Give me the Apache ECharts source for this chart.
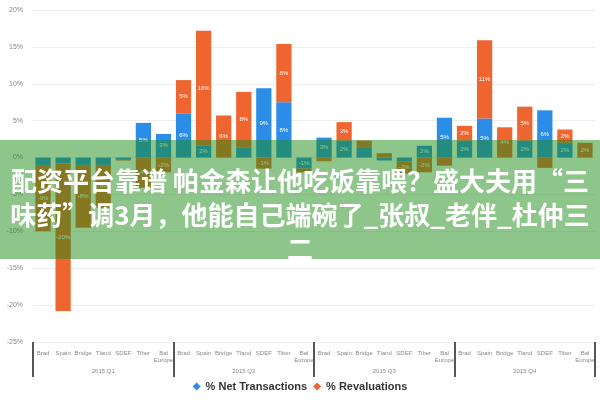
<!DOCTYPE html>
<html><head><meta charset="utf-8">
<script src="https://cdn.jsdelivr.net/npm/echarts@6/dist/echarts.min.js"></script>
<style>html,body{margin:0;padding:0;background:#fff}#c{width:600px;height:400px}</style>
</head><body><div id="c"></div>
<script>
const groupCats = ["Brad","Spain","Bridge","Tland","SDEF","Tiber","Bal\nEurope"];
const groups = ["2015 Q1","2015 Q2","2015 Q3","2015 Q4"];
const categories = [].concat(groupCats, groupCats, groupCats, groupCats);
const netTransactions = [-1, -0.8, -1, -1, -0.2, 4.7, 3.2, 6, 1.6, 0, 1.4, 9.4, 7.5, -1.5, 2.7, 2.3, 1.3, -0.4, -0.5, 1.6, 5.4, 2.3, 5.3, 0, 2.3, 6.4, 2, 0];
const revaluations = [-9, -20, -8.5, -5.8, -0.2, -4.1, -2, 4.5, 15.6, 5.7, 7.5, -1.5, 7.9, -0.5, -0.5, 2.5, 1, 0.6, -1.7, -2, -1.1, 2, 10.6, 4.1, 4.6, -1.4, 1.8, 2];
const titleLines = ["配资平台靠谱 帕金森让他吃饭靠喂？盛大夫用“三", "味药”调3月，他能自己端碗了_张叔_老伴_杜仲三", "二"];

const chart = echarts.init(document.getElementById('c'));
const lbl = {
  show: true, position: 'inside', fontSize: 6, color: '#fff',
  formatter: p => Math.abs(p.value) >= 1.5 ? Math.round(p.value) + '%' : ''
};
chart.setOption({
  animation: false,
  grid: {left: 33, right: 5, top: 10, bottom: 58},
  legend: {
    bottom: 3, left: 'center', icon: 'diamond', itemWidth: 8, itemHeight: 8, itemGap: 6,
    textStyle: {fontSize: 11, fontWeight: 'bold', color: '#333', fontFamily: 'Liberation Sans'},
    data: ['% Net Transactions', '% Revaluations']
  },
  xAxis: [{
    type: 'category', data: categories,
    axisLine: {show: false}, axisTick: {show: false},
    axisLabel: {interval: 0, fontSize: 6, color: '#888', margin: 8, lineHeight: 7}
  }, {
    type: 'category', data: groups, position: 'bottom',
    axisLine: {show: false},
    axisTick: {show: true, length: 35, lineStyle: {width: 2, color: '#555'}},
    axisLabel: {fontSize: 6, color: '#888', margin: 26}
  }],
  yAxis: {
    type: 'value', min: -25, max: 20, interval: 5,
    axisLabel: {formatter: '{value}%', fontSize: 7, color: '#888', margin: 10},
    splitLine: {lineStyle: {color: '#eee'}},
    axisLine: {show: false}, axisTick: {show: false}
  },
  series: [{
    name: '% Net Transactions', type: 'bar', stack: 's', data: netTransactions,
    barWidth: '76%', itemStyle: {color: '#2b8de8'}, label: lbl
  }, {
    name: '% Revaluations', type: 'bar', stack: 's', data: revaluations,
    barWidth: '76%', itemStyle: {color: '#ee6530'}, label: lbl
  }],
  graphic: [
    {type: 'rect', shape: {x: 0, y: 140, width: 600, height: 119}, style: {fill: 'rgba(27,139,21,0.5)'}, z: 100},
    {type: 'text', x: 300, y: 181, z: 101, style: {text: titleLines[0], fill: '#fff', font: 'bold 26px "Noto Sans CJK SC"', textAlign: 'center', textVerticalAlign: 'middle'}},
    {type: 'text', x: 300, y: 215, z: 101, style: {text: titleLines[1], fill: '#fff', font: 'bold 26px "Noto Sans CJK SC"', textAlign: 'center', textVerticalAlign: 'middle'}},
    {type: 'text', x: 300, y: 249, z: 101, style: {text: titleLines[2], fill: '#fff', font: 'bold 26px "Noto Sans CJK SC"', textAlign: 'center', textVerticalAlign: 'middle'}}
  ]
});
</script></body></html>
